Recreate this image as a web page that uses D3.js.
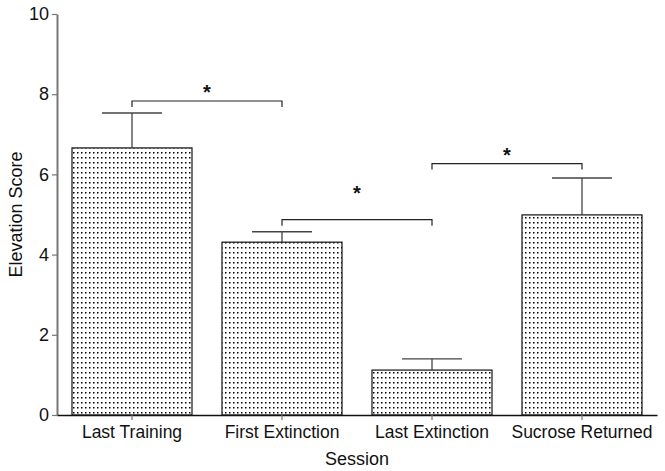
<!DOCTYPE html>
<html lang="en">
<head>
<meta charset="utf-8">
<title>Elevation Score by Session</title>
<script src="https://d3js.org/d3.v7.min.js"></script>
<style>
  body { margin: 0; background: #fff; }
  text { font-family: "Liberation Sans", Arial, sans-serif; }
</style>
</head>
<body>
<script>
// data
var sessions = ["Last Training", "First Extinction", "Last Extinction", "Sucrose Returned"];
var means = [6.66, 4.31, 1.12, 4.99];
var sems = [0.87, 0.26, 0.28, 0.92];
var yTicks = [0, 2, 4, 6, 8, 10];
// significance brackets: from session, to session, bracket height, star height
var sigFrom = [0, 1, 2];
var sigTo = [1, 2, 3];
var sigLevel = [7.83, 4.87, 6.27];
var sigStar = [8.12, 5.6, 6.55];

var width = 665, height = 471;
var margin = {top: 14, right: 8, bottom: 56, left: 57};

var svg = d3.select("body").append("svg")
    .attr("width", width)
    .attr("height", height);

var defs = svg.append("defs");
var pat = defs.append("pattern")
    .attr("id", "dots")
    .attr("patternUnits", "userSpaceOnUse")
    .attr("width", 4)
    .attr("height", 5);
pat.append("rect").attr("width", 4).attr("height", 5).attr("fill", "#fff");
pat.append("rect").attr("x", 1).attr("y", 2).attr("width", 1.5).attr("height", 1.5).attr("fill", "#000");

var x = d3.scaleBand()
    .domain(sessions)
    .range([margin.left, width - margin.right])
    .paddingInner(0.2)
    .paddingOuter(0.1);

var y = d3.scaleLinear()
    .domain([0, 10])
    .range([height - margin.bottom, margin.top]);

// bars
svg.selectAll(".bar")
    .data(sessions)
    .enter()
    .append("rect")
    .attr("class", "bar")
    .attr("x", function(d) { return x(d); })
    .attr("y", function(d, i) { return y(means[i]); })
    .attr("width", x.bandwidth())
    .attr("height", function(d, i) { return y(0) - y(means[i]); })
    .attr("fill", "url(#dots)")
    .attr("stroke", "#111")
    .attr("stroke-width", 1.2);

// error bars (upper only)
var eb = svg.selectAll(".err")
    .data(sessions)
    .enter()
    .append("g")
    .attr("class", "err");
eb.append("line")
    .attr("x1", function(d) { return x(d) + x.bandwidth() / 2; })
    .attr("x2", function(d) { return x(d) + x.bandwidth() / 2; })
    .attr("y1", function(d, i) { return y(means[i]); })
    .attr("y2", function(d, i) { return y(means[i] + sems[i]); })
    .attr("stroke", "#333")
    .attr("stroke-width", 1.2);
eb.append("line")
    .attr("x1", function(d) { return x(d) + x.bandwidth() / 2 - 30; })
    .attr("x2", function(d) { return x(d) + x.bandwidth() / 2 + 30; })
    .attr("y1", function(d, i) { return y(means[i] + sems[i]); })
    .attr("y2", function(d, i) { return y(means[i] + sems[i]); })
    .attr("stroke", "#444")
    .attr("stroke-width", 1.4);

// axes
var yAxis = svg.append("g")
    .attr("transform", "translate(" + margin.left + ",0)")
    .call(d3.axisLeft(y).tickValues(yTicks).tickSize(5).tickPadding(3).tickSizeOuter(0));
yAxis.select(".domain").attr("stroke", "#777").attr("stroke-width", 2);
yAxis.selectAll(".tick line").attr("stroke", "#777").attr("stroke-width", 1.2);
yAxis.selectAll(".tick text").attr("font-size", 18).attr("fill", "#111")
    .style("font-family", "'Liberation Sans', Arial, sans-serif");

var xAxis = svg.append("g")
    .attr("transform", "translate(0," + y(0) + ")")
    .call(d3.axisBottom(x).tickSize(5).tickPadding(6).tickSizeOuter(0));
xAxis.select(".domain").attr("stroke", "#111").attr("stroke-width", 1.5);
xAxis.selectAll(".tick line").attr("stroke", "#777").attr("stroke-width", 1.2);
xAxis.selectAll(".tick text").attr("font-size", 17.5).attr("fill", "#111")
    .style("font-family", "'Liberation Sans', Arial, sans-serif");

// significance brackets
sigFrom.forEach(function(a, k) {
    var x1 = x(sessions[a]) + x.bandwidth() / 2;
    var x2 = x(sessions[sigTo[k]]) + x.bandwidth() / 2;
    var yy = y(sigLevel[k]);
    svg.append("path")
        .attr("d", "M" + x1 + "," + (yy + 6) + "V" + yy + "H" + x2 + "V" + (yy + 6))
        .attr("fill", "none")
        .attr("stroke", "#222")
        .attr("stroke-width", 1.2);
    svg.append("text")
        .attr("x", (x1 + x2) / 2)
        .attr("y", y(sigStar[k]) + 10)
        .attr("text-anchor", "middle")
        .attr("font-size", 20)
        .attr("font-weight", "bold")
        .attr("fill", "#111")
        .text("*");
});

// axis titles
svg.append("text")
    .attr("x", (margin.left + width - margin.right) / 2)
    .attr("y", 465)
    .attr("text-anchor", "middle")
    .attr("font-size", 18)
    .attr("fill", "#111")
    .text("Session");

svg.append("text")
    .attr("transform", "translate(22," + ((margin.top + y(0)) / 2) + ") rotate(-90)")
    .attr("text-anchor", "middle")
    .attr("font-size", 18)
    .attr("fill", "#111")
    .text("Elevation Score");
</script>
</body>
</html>
